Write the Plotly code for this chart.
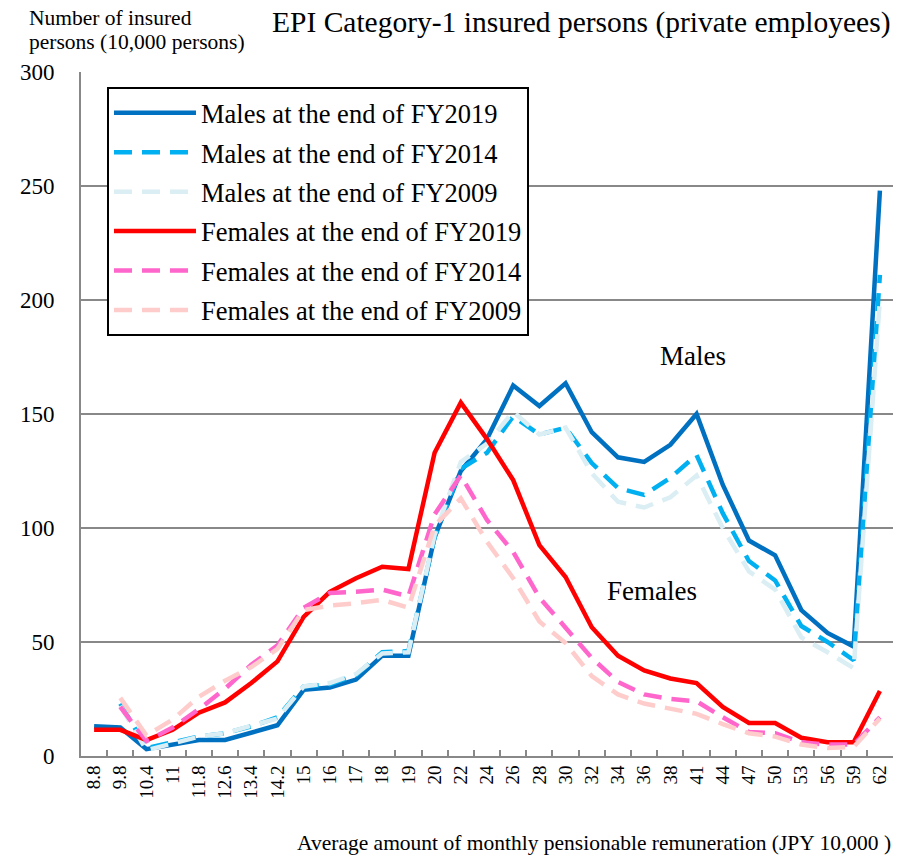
import plotly.graph_objects as go

categories = ["8.8", "9.8", "10.4", "11", "11.8", "12.6", "13.4", "14.2", "15", "16",
              "17", "18", "19", "20", "22", "24", "26", "28", "30", "32", "34", "36",
              "38", "41", "44", "47", "50", "53", "56", "59", "62"]

males_2019 = [13, 12.5, 3, 5, 7, 7, 10, 13.5, 29, 30, 33.5, 44, 44, 96, 125, 139, 162.5,
              153.5, 163.5, 142, 131, 129, 136.5, 150, 119, 94.5, 88, 64, 54, 48, 248]
males_2014 = [None, 23, 3.5, 6, 8.5, 10, 13, 17, 30.5, 31.5, 35.5, 45.5, 46, 96, 126, 133,
              149, 141, 144, 128.5, 117.5, 114.5, 122, 132, 106.5, 85.5, 77, 57, 50, 42, 211]
males_2009 = [None, 22, 2.5, 5.5, 8.5, 10, 13, 16.5, 30.5, 32, 36, 45, 45.5, 97, 129, 137,
              151, 141, 144, 124, 111.5, 109, 113.5, 123, 100, 81, 73, 52, 45.5, 38.5, 200]
females_2019 = [11.5, 11.5, 7, 11.5, 19, 23.5, 32, 41.5, 61, 72, 78, 83, 82, 133, 155, 139,
                121, 92.5, 78.5, 56.5, 44, 37.5, 34, 32, 21.5, 14.5, 14.5, 8, 6, 6, 28.5]
females_2014 = [None, 21.5, 6.5, 12.5, 20.5, 29.5, 40, 48.5, 65, 71.5, 72, 73, 70, 106, 123,
                103.5, 89.5, 69.5, 56.5, 43, 32.5, 27, 25, 24, 17, 10.5, 10, 6, 5, 5, 17]
females_2009 = [None, 25.5, 9, 16, 26, 33, 39, 47, 64, 66, 67, 68.5, 65, 101, 113, 94, 78,
                59, 49.5, 35, 27, 23, 20.5, 18.5, 14, 10, 8.5, 5, 3.5, 4, 16.5]

series = [
    ("Males at the end of FY2019", males_2019, "#0070C0", "solid"),
    ("Males at the end of FY2014", males_2014, "#00B0F0", "18px,10px"),
    ("Males at the end of FY2009", males_2009, "#DAEEF3", "18px,10px"),
    ("Females at the end of FY2019", females_2019, "#FF0000", "solid"),
    ("Females at the end of FY2014", females_2014, "#FF66CC", "18px,10px"),
    ("Females at the end of FY2009", females_2009, "#FFCCCC", "18px,10px"),
]

FONT = "Liberation Serif, Times New Roman, serif"

fig = go.Figure()
for i, (name, vals, color, dash) in enumerate(series):
    fig.add_trace(go.Scatter(
        x=categories, y=vals, name=name, mode="lines",
        line=dict(color=color, width=4.5, dash=dash),
        legendgroup=f"g{i}", connectgaps=False,
    ))

fig.update_layout(
    width=903, height=858,
    margin=dict(l=81, r=10, t=72, b=102),
    plot_bgcolor="white", paper_bgcolor="white",
    font=dict(family=FONT, color="black"),
    showlegend=True,
    legend=dict(
        x=0.032, y=0.978, xanchor="left", yanchor="top",
        bgcolor="white", bordercolor="black", borderwidth=2,
        font=dict(family=FONT, size=26.5, color="black"),
        traceorder="grouped", tracegroupgap=2, itemwidth=82,
    ),
    xaxis=dict(
        type="category", range=[-0.5, 30.5],
        showline=True, linecolor="#888888", linewidth=2,
        ticks="inside", tickson="boundaries", ticklen=6, tickcolor="#888888", tickwidth=1.5,
        tickangle=-90, tickfont=dict(family=FONT, size=19, color="black"),
        showgrid=False, zeroline=False,
    ),
    yaxis=dict(
        range=[0, 300], tickvals=[0, 50, 100, 150, 200, 250, 300],
        showline=True, linecolor="#888888", linewidth=2,
        showgrid=True, gridcolor="#888888", gridwidth=1.5,
        ticks="", ticklabelstandoff=20,
        tickfont=dict(family=FONT, size=23, color="black"),
        zeroline=False,
    ),
    annotations=[
        dict(text="EPI Category-1 insured persons (private employees)", xref="paper", yref="paper",
             x=1.0, y=1.0, xanchor="right", yanchor="middle", yshift=50, showarrow=False,
             font=dict(family=FONT, size=29.5, color="black")),
        dict(text="Number of insured", xref="paper", yref="paper",
             x=-0.0665, y=1.0, xanchor="left", yanchor="middle", yshift=54, showarrow=False,
             align="left", font=dict(family=FONT, size=21.5, color="black")),
        dict(text="persons (10,000 persons)", xref="paper", yref="paper",
             x=-0.0665, y=1.0, xanchor="left", yanchor="middle", yshift=30, showarrow=False,
             align="left", font=dict(family=FONT, size=21.5, color="black")),
        dict(text="Average amount of monthly pensionable remuneration (JPY 10,000 )",
             xref="paper", yref="paper", x=1.0, y=0, xanchor="right", yanchor="middle",
             yshift=-87, showarrow=False, font=dict(family=FONT, size=21.5, color="black")),
        dict(text="Males", xref="paper", yref="paper", x=0.754, y=0.585, showarrow=False,
             xanchor="center", yanchor="middle",
             font=dict(family=FONT, size=27, color="black")),
        dict(text="Females", xref="paper", yref="paper", x=0.703, y=0.241, showarrow=False,
             xanchor="center", yanchor="middle",
             font=dict(family=FONT, size=27, color="black")),
    ],
)

fig.write_html("out.html",
               config={"displayModeBar": False},
               post_script="document.body.style.margin='0';document.body.style.padding='0';")
